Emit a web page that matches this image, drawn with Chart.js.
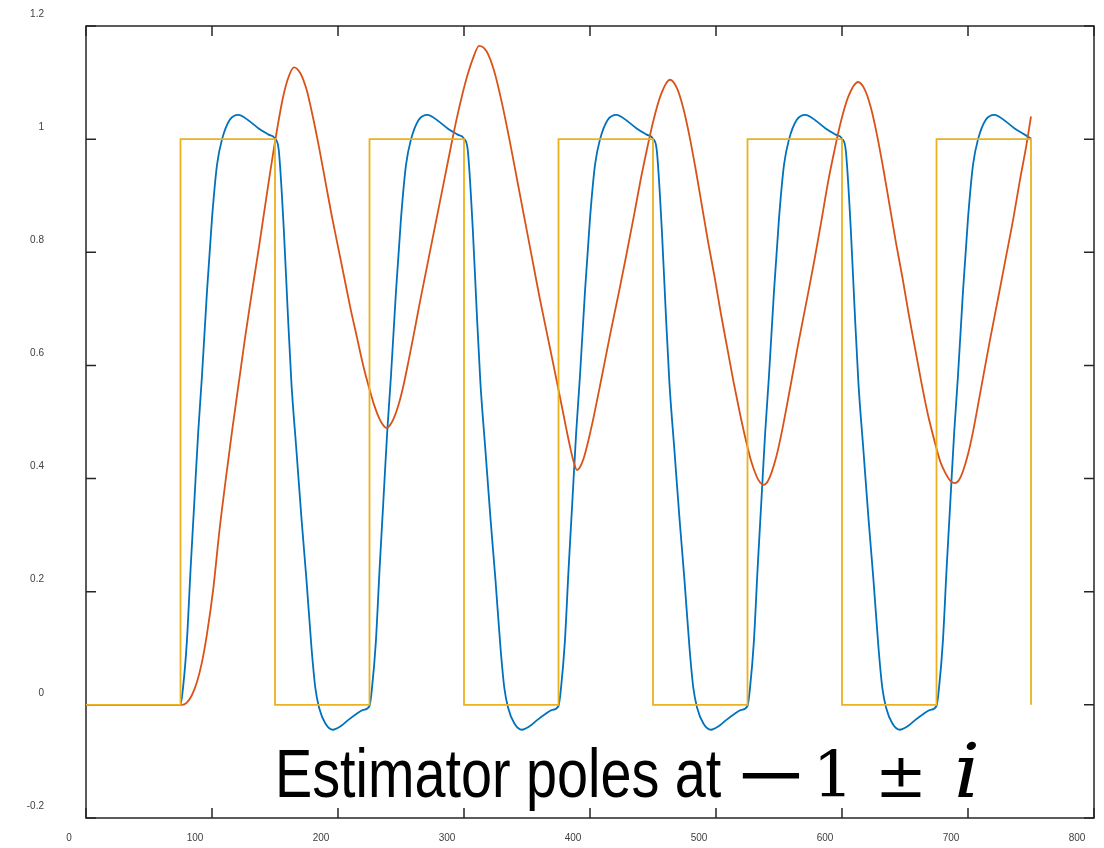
<!DOCTYPE html>
<html lang="en">
<head>
<meta charset="UTF-8">
<title>Estimator poles</title>
<script src="https://cdn.jsdelivr.net/npm/chart.js"></script>
<style>
  html, body { margin: 0; padding: 0; background: #fff; }
  #wrap { width: 1104px; height: 848px; position: relative; }
</style>
</head>
<body>
<div id="wrap"><canvas id="graph1"></canvas></div>
<script>
// reference input (square wave)
const inputX = [0, 75, 75, 150, 150, 225, 225, 300, 300, 375, 375, 450, 450, 525, 525, 600, 600, 675, 675, 750, 750];
const inputY = [0, 0, 1, 1, 0, 0, 1, 1, 0, 0, 1, 1, 0, 0, 1, 1, 0, 0, 1, 1, 0];

// fast response (blue)
const blueX = [0, 75, 77, 80, 83, 86, 89, 92, 96, 100, 104, 108, 114, 121, 129, 137, 145, 150,
  153, 157, 160, 163, 167, 171, 175, 179, 182, 185, 190, 196, 202, 208, 214, 220, 225,
  227, 230, 233, 236, 239, 242, 246, 250, 254, 258, 264, 271, 279, 287, 295, 300,
  303, 307, 310, 313, 317, 321, 325, 329, 332, 335, 340, 346, 352, 358, 364, 370, 375,
  377, 380, 383, 386, 389, 392, 396, 400, 404, 408, 414, 421, 429, 437, 445, 450,
  453, 457, 460, 463, 467, 471, 475, 479, 482, 485, 490, 496, 502, 508, 514, 520, 525,
  527, 530, 533, 536, 539, 542, 546, 550, 554, 558, 564, 571, 579, 587, 595, 600,
  603, 607, 610, 613, 617, 621, 625, 629, 632, 635, 640, 646, 652, 658, 664, 670, 675,
  677, 680, 683, 686, 689, 692, 696, 700, 704, 708, 714, 721, 729, 737, 745, 750];
const blueY = [0, 0, 0.03, 0.11, 0.24, 0.36, 0.48, 0.58, 0.73, 0.86, 0.955, 1.0, 1.034, 1.043, 1.033, 1.019, 1.008, 1.001,
  0.98, 0.84, 0.70, 0.57, 0.45, 0.33, 0.22, 0.10, 0.03, -0.005, -0.033, -0.044, -0.038, -0.027, -0.017, -0.009, -0.002,
  0.03, 0.11, 0.24, 0.36, 0.48, 0.58, 0.73, 0.86, 0.955, 1.0, 1.034, 1.043, 1.033, 1.019, 1.008, 1.001,
  0.98, 0.84, 0.70, 0.57, 0.45, 0.33, 0.22, 0.10, 0.03, -0.005, -0.033, -0.044, -0.038, -0.027, -0.017, -0.009, -0.002,
  0.03, 0.11, 0.24, 0.36, 0.48, 0.58, 0.73, 0.86, 0.955, 1.0, 1.034, 1.043, 1.033, 1.019, 1.008, 1.001,
  0.98, 0.84, 0.70, 0.57, 0.45, 0.33, 0.22, 0.10, 0.03, -0.005, -0.033, -0.044, -0.038, -0.027, -0.017, -0.009, -0.002,
  0.03, 0.11, 0.24, 0.36, 0.48, 0.58, 0.73, 0.86, 0.955, 1.0, 1.034, 1.043, 1.033, 1.019, 1.008, 1.001,
  0.98, 0.84, 0.70, 0.57, 0.45, 0.33, 0.22, 0.10, 0.03, -0.005, -0.033, -0.044, -0.038, -0.027, -0.017, -0.009, -0.002,
  0.03, 0.11, 0.24, 0.36, 0.48, 0.58, 0.73, 0.86, 0.955, 1.0, 1.034, 1.043, 1.033, 1.019, 1.008, 1.001];

// slow response (orange)
const orangeX = [0, 76, 80, 84, 88, 92, 96, 101, 106, 111, 116, 121, 126, 131, 137, 143, 150, 156, 160, 165,
  170, 175, 180, 185, 190, 195, 200, 205, 210, 215, 220, 225, 229, 233, 236, 238.6,
  241, 244, 248, 252, 256, 260, 265, 272, 278, 284, 289, 294, 299, 303, 307, 312,
  318, 324, 330, 336, 342, 348, 354, 360, 366, 372, 377, 381, 384, 387, 389.7,
  392, 395, 399, 403, 409, 416, 423, 429, 435, 440, 445, 450, 456, 463.5,
  469, 474, 479, 484, 489, 494, 499, 504, 509, 514, 519, 524, 528, 532, 535, 538,
  541, 544, 548, 552, 558, 565, 572, 578, 584, 589, 594, 599, 605, 612.7,
  618, 623, 628, 633, 638, 643, 648, 653, 658, 663, 668, 673, 678, 682, 686, 689.7,
  693, 696, 700, 704, 710, 717, 724, 730, 736, 741, 746, 750];
const orangeY = [0, 0, 0.004, 0.017, 0.04, 0.075, 0.125, 0.205, 0.31, 0.40, 0.485, 0.565, 0.645, 0.72, 0.805, 0.895, 0.995, 1.07, 1.105, 1.127,
  1.117, 1.088, 1.04, 0.985, 0.925, 0.865, 0.81, 0.755, 0.70, 0.65, 0.60, 0.558, 0.528, 0.505, 0.494, 0.489,
  0.4935, 0.505, 0.53, 0.565, 0.608, 0.653, 0.712, 0.79, 0.857, 0.924, 0.98, 1.034, 1.082, 1.115, 1.142, 1.165,
  1.155, 1.12, 1.065, 1.0, 0.93, 0.86, 0.79, 0.72, 0.655, 0.59, 0.535, 0.49, 0.458, 0.43, 0.415,
  0.42, 0.436, 0.47, 0.51, 0.576, 0.655, 0.73, 0.797, 0.866, 0.926, 0.98, 1.03, 1.077, 1.105,
  1.09, 1.055, 1.005, 0.945, 0.88, 0.815, 0.755, 0.69, 0.63, 0.57, 0.515, 0.465, 0.43, 0.405, 0.393, 0.389,
  0.395, 0.41, 0.44, 0.48, 0.55, 0.635, 0.715, 0.785, 0.86, 0.925, 0.98, 1.03, 1.075, 1.101,
  1.088, 1.055, 1.005, 0.945, 0.88, 0.815, 0.755, 0.69, 0.63, 0.57, 0.515, 0.47, 0.43, 0.41, 0.396, 0.392,
  0.398, 0.413, 0.443, 0.483, 0.555, 0.64, 0.72, 0.79, 0.86, 0.925, 0.985, 1.04];

const xTicks = [0, 100, 200, 300, 400, 500, 600, 700, 800];
const yTicks = [-0.2, 0, 0.2, 0.4, 0.6, 0.8, 1, 1.2];

function pts(xs, ys) {
  return xs.map((x, i) => ({ x: x, y: ys[i] }));
}

// no extra room for labels that stick out past the plot box
function noLabelPadding(s) {
  s.paddingTop = 0;
  s.paddingBottom = 0;
  s.paddingLeft = 0;
  s.paddingRight = 0;
}

// box around the axes with inward ticks on all four sides (lines go on top)
const boxPlugin = {
  id: "box",
  beforeDatasetsDraw(chart) {
    const ctx = chart.ctx;
    const a = chart.chartArea;
    const xs = chart.scales.x, ys = chart.scales.y;
    ctx.save();
    ctx.strokeStyle = "#262626";
    ctx.lineWidth = 1.5;
    ctx.strokeRect(a.left, a.top, a.right - a.left, a.bottom - a.top);
    ctx.beginPath();
    xTicks.forEach(v => {
      const px = xs.getPixelForValue(v);
      ctx.moveTo(px, a.bottom); ctx.lineTo(px, a.bottom - 10);
      ctx.moveTo(px, a.top); ctx.lineTo(px, a.top + 10);
    });
    yTicks.forEach(v => {
      const py = ys.getPixelForValue(v);
      ctx.moveTo(a.left, py); ctx.lineTo(a.left + 10, py);
      ctx.moveTo(a.right, py); ctx.lineTo(a.right - 10, py);
    });
    ctx.stroke();
    ctx.restore();
  }
};

// "Estimator poles at -1 ± i"
const notePlugin = {
  id: "note",
  afterDraw(chart) {
    const ctx = chart.ctx;
    const a = chart.chartArea;
    const base = a.bottom - 21;
    ctx.save();
    ctx.fillStyle = "#000";
    ctx.textBaseline = "alphabetic";
    ctx.textAlign = "left";
    ctx.save();
    ctx.translate(a.left + 189, base);
    ctx.scale(0.82, 1);
    ctx.font = "68px 'Liberation Sans', Arial, sans-serif";
    ctx.fillText("Estimator poles at", 0, 0);
    ctx.restore();
    ctx.textAlign = "center";
    ctx.save();
    ctx.translate(a.left + 685, base);
    ctx.scale(1.32, 1);
    ctx.font = "68px 'DejaVu Serif', serif";
    ctx.fillText("\u2212", 0, 0);
    ctx.restore();
    ctx.font = "64px 'DejaVu Serif', serif";
    ctx.fillText("1", a.left + 747, base);
    ctx.font = "62px 'DejaVu Serif', serif";
    ctx.fillText("\u00B1", a.left + 815, base);
    ctx.save();
    ctx.translate(a.left + 881, base);
    ctx.scale(1.1, 1);
    ctx.font = "italic 74px 'DejaVu Serif', serif";
    ctx.fillText("i", 0, 0);
    ctx.restore();
    ctx.restore();
  }
};

new Chart("graph1", {
  type: "line",
  data: {
    datasets: [{
      data: pts(inputX, inputY),
      borderColor: "#EDB120",
      borderWidth: 1.8,
      pointRadius: 0,
      tension: 0,
      fill: false,
      order: 0
    }, {
      data: pts(orangeX, orangeY),
      borderColor: "#D95319",
      borderWidth: 1.8,
      pointRadius: 0,
      cubicInterpolationMode: "monotone",
      fill: false,
      order: 1
    }, {
      data: pts(blueX, blueY),
      borderColor: "#0072BD",
      borderWidth: 1.8,
      pointRadius: 0,
      cubicInterpolationMode: "monotone",
      fill: false,
      order: 2
    }]
  },
  options: {
    responsive: true,
    maintainAspectRatio: false,
    animation: false,
    layout: { padding: { top: 26, right: 10, left: 0, bottom: 0 } },
    plugins: { legend: { display: false }, tooltip: { enabled: false } },
    scales: {
      x: {
        type: "linear",
        min: 0,
        max: 800,
        afterFit(s) { s.height = 30; noLabelPadding(s); },
        afterBuildTicks(s) { s.ticks = xTicks.map(v => ({ value: v })); },
        grid: { display: false, drawTicks: false },
        border: { display: false },
        ticks: {
          autoSkip: false,
          maxRotation: 0,
          labelOffset: -17,
          padding: 14,
          color: "#404040",
          font: { family: "'Liberation Sans', Arial, sans-serif", size: 10 }
        }
      },
      y: {
        type: "linear",
        min: -0.2,
        max: 1.2,
        afterFit(s) { s.width = 86; noLabelPadding(s); },
        afterBuildTicks(s) { s.ticks = yTicks.map(v => ({ value: v })); },
        grid: { display: false, drawTicks: false },
        border: { display: false },
        ticks: {
          autoSkip: false,
          labelOffset: -12,
          padding: 42,
          color: "#404040",
          font: { family: "'Liberation Sans', Arial, sans-serif", size: 10 },
          callback: v => String(Math.round(v * 10) / 10)
        }
      }
    }
  },
  plugins: [boxPlugin, notePlugin]
});
</script>
</body>
</html>
